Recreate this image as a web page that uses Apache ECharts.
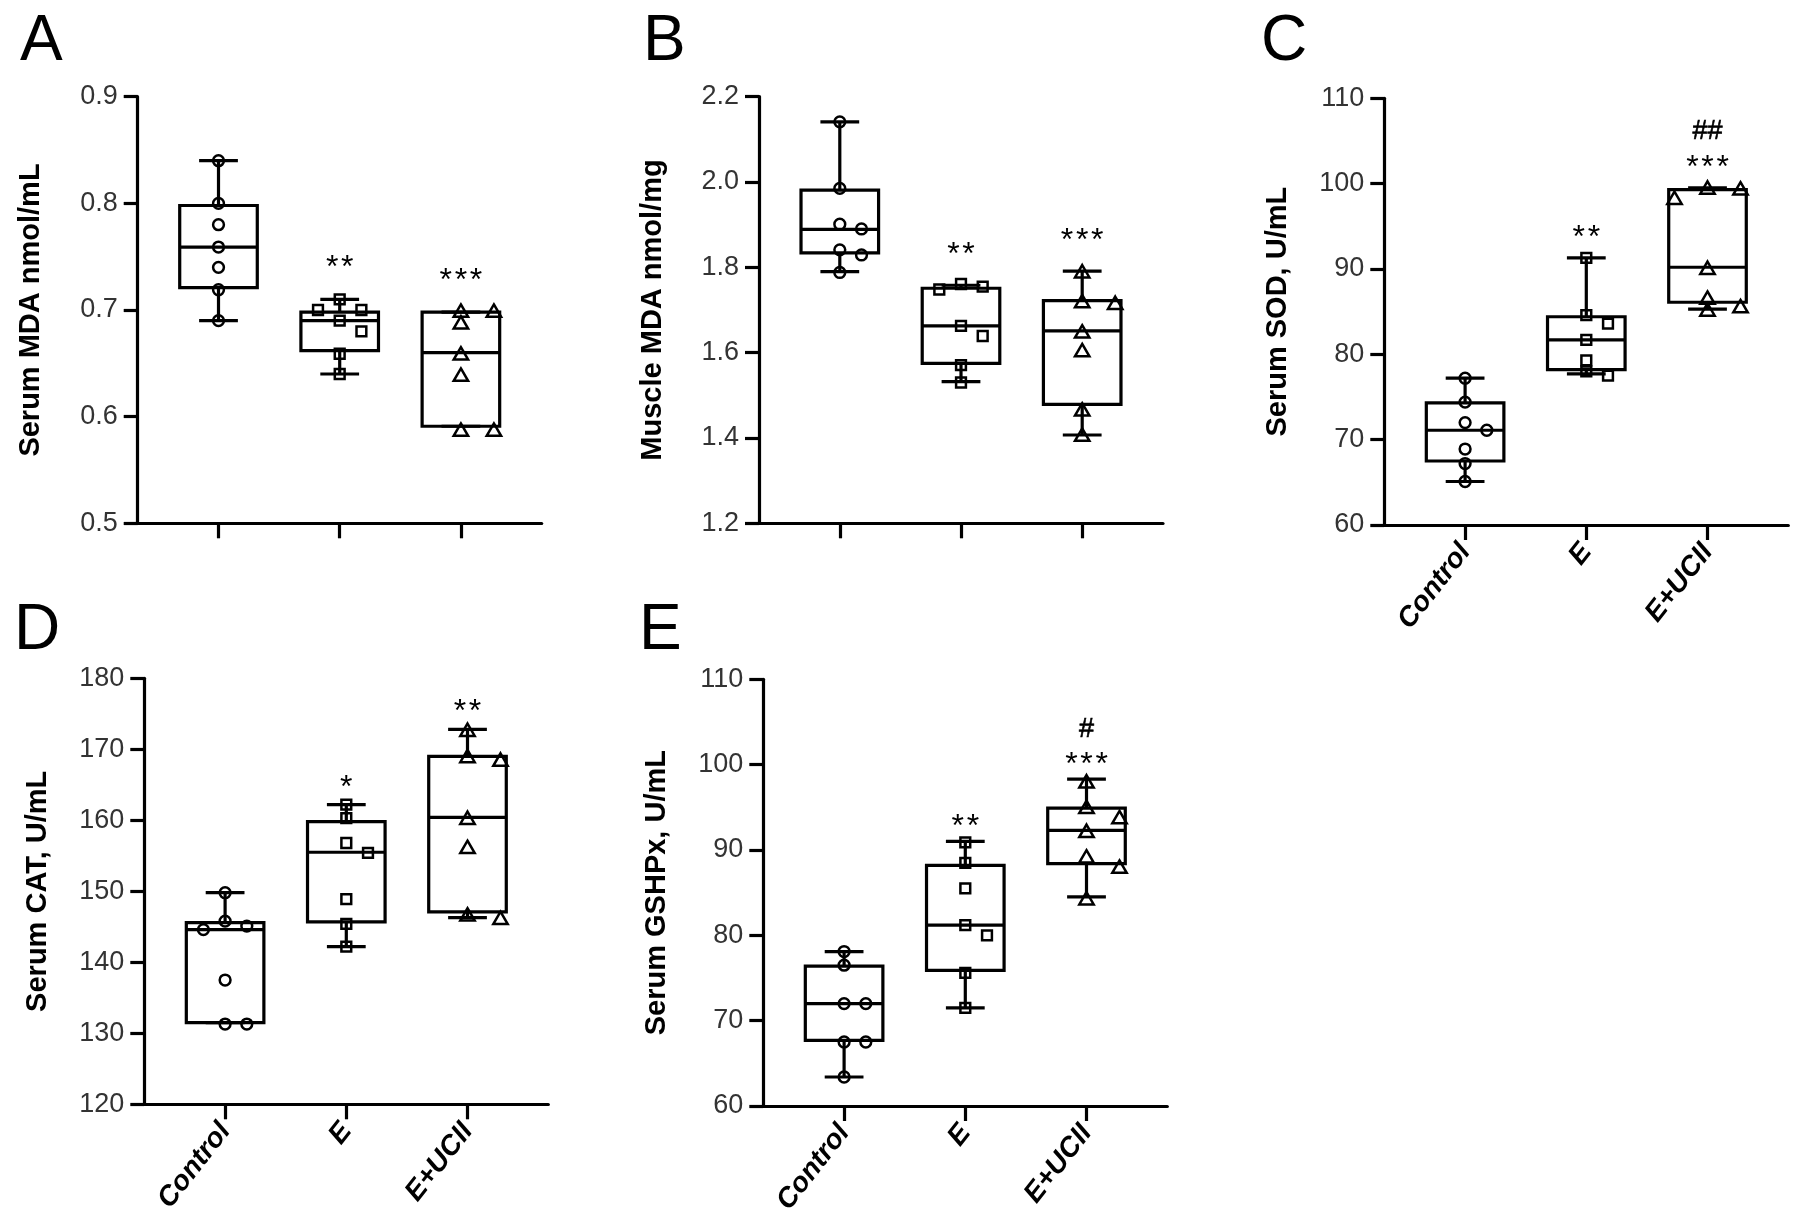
<!DOCTYPE html>
<html>
<head>
<meta charset="utf-8">
<style>
html,body{margin:0;padding:0;background:#fff;}
#c{width:1804px;height:1226px;}
</style>
<script src="https://cdn.jsdelivr.net/npm/echarts@6/dist/echarts.min.js"></script>
</head>
<body>
<div id="c"></div>
<script>
// ---------------- data ----------------
const categories = ['Control', 'E', 'E+UCII'];

// A: Serum MDA (nmol/mL)
const serumMDA_points = [
  [0.840, 0.800, 0.780, 0.759, 0.740, 0.719, 0.690],
  [0.710, 0.700, 0.700, 0.690, 0.680, 0.659, 0.640],
  [0.699, 0.699, 0.688, 0.659, 0.639, 0.5875, 0.5875]
];
// [min, Q1, median, Q3, max]
const serumMDA_box = [
  [0.690, 0.721, 0.759, 0.798, 0.840],
  [0.640, 0.662, 0.690, 0.698, 0.710],
  [0.591, 0.591, 0.660, 0.698, 0.698]
];
const serumMDA_sig = ['', '**', '***'];
const serumMDA_sig2 = ['', '', ''];

// B: Muscle MDA (nmol/mg)
const muscleMDA_points = [
  [2.141, 1.985, 1.901, 1.890, 1.841, 1.829, 1.788],
  [1.761, 1.755, 1.748, 1.663, 1.639, 1.571, 1.530],
  [1.790, 1.720, 1.716, 1.649, 1.605, 1.466, 1.407]
];
const muscleMDA_box = [
  [1.790, 1.834, 1.889, 1.981, 2.141],
  [1.532, 1.575, 1.663, 1.751, 1.758],
  [1.407, 1.479, 1.651, 1.722, 1.791]
];
const muscleMDA_sig = ['', '**', '***'];
const muscleMDA_sig2 = ['', '', ''];

// C: Serum SOD (U/mL)
const serumSOD_points = [
  [77.2, 74.4, 72.0, 71.1, 68.9, 67.2, 65.1],
  [91.3, 84.6, 83.6, 81.7, 79.3, 78.0, 77.5],
  [99.5, 99.4, 98.3, 90.1, 86.6, 85.6, 85.2]
];
const serumSOD_box = [
  [65.1, 67.5, 71.1, 74.3, 77.2],
  [77.7, 78.2, 81.7, 84.4, 91.3],
  [85.3, 86.1, 90.2, 99.3, 99.5]
];
const serumSOD_sig = ['', '**', '***'];
const serumSOD_sig2 = ['', '', '##'];

// D: Serum CAT (U/mL)
const serumCAT_points = [
  [149.8, 145.8, 145.1, 144.6, 137.5, 131.3, 131.3],
  [162.2, 160.3, 156.8, 155.4, 148.9, 145.4, 142.2],
  [172.7, 169.0, 168.5, 160.3, 156.2, 146.7, 146.2]
];
const serumCAT_box = [
  [131.5, 131.5, 144.6, 145.6, 149.8],
  [142.2, 145.7, 155.5, 159.8, 162.2],
  [146.3, 147.1, 160.4, 169.0, 172.8]
];
const serumCAT_sig = ['', '*', '**'];
const serumCAT_sig2 = ['', '', ''];

// E: Serum GSHPx (U/mL)
const serumGSHPx_points = [
  [78.1, 76.5, 72.0, 72.0, 67.5, 67.5, 63.4],
  [90.9, 88.5, 85.5, 81.2, 80.0, 75.6, 71.5],
  [98.0, 95.0, 93.8, 92.2, 89.2, 88.0, 84.3]
];
const serumGSHPx_box = [
  [63.4, 67.7, 72.0, 76.4, 78.1],
  [71.5, 75.9, 81.2, 88.2, 91.0],
  [84.5, 88.4, 92.3, 94.9, 98.3]
];
const serumGSHPx_sig = ['', '**', '***'];
const serumGSHPx_sig2 = ['', '', '#'];

// tick settings
const ticksA = {min: 0.5, max: 0.9, step: 0.1, dec: 1};
const ticksB = {min: 1.2, max: 2.2, step: 0.2, dec: 1};
const ticksC = {min: 60, max: 110, step: 10, dec: 0};
const ticksD = {min: 120, max: 180, step: 10, dec: 0};
const ticksE = {min: 60, max: 110, step: 10, dec: 0};

// ---------------- layout ----------------
const FONT = "'Liberation Sans', Arial, Helvetica, sans-serif";
const panels = [
  {letter: 'A', lx: 20, ly: 42, grid: {left: 137.7, top: 96.7, width: 404, height: 426.6},
   ticks: ticksA, title: 'Serum MDA nmol/mL', points: serumMDA_points, box: serumMDA_box,
   sig: serumMDA_sig, sig2: serumMDA_sig2, showX: false, sigGap: 40},
  {letter: 'B', lx: 643, ly: 42, grid: {left: 759, top: 96.7, width: 404, height: 426.6},
   ticks: ticksB, title: 'Muscle MDA nmol/mg', points: muscleMDA_points, box: muscleMDA_box,
   sig: muscleMDA_sig, sig2: muscleMDA_sig2, showX: false, sigGap: 39},
  {letter: 'C', lx: 1261, ly: 42, grid: {left: 1384.3, top: 98.3, width: 404, height: 426.7},
   ticks: ticksC, title: 'Serum SOD, U/mL', points: serumSOD_points, box: serumSOD_box,
   sig: serumSOD_sig, sig2: serumSOD_sig2, showX: true, sigGap: 29},
  {letter: 'D', lx: 14, ly: 631, grid: {left: 144.3, top: 678.3, width: 404, height: 426},
   ticks: ticksD, title: 'Serum CAT, U/mL', points: serumCAT_points, box: serumCAT_box,
   sig: serumCAT_sig, sig2: serumCAT_sig2, showX: true, sigGap: 26},
  {letter: 'E', lx: 639, ly: 631, grid: {left: 763.3, top: 679.3, width: 404, height: 426.7},
   ticks: ticksE, title: 'Serum GSHPx, U/mL', points: serumGSHPx_points, box: serumGSHPx_box,
   sig: serumGSHPx_sig, sig2: serumGSHPx_sig2, showX: true, sigGap: 23}
];

const LINE = 3.2;
const MARK_LW = 2.5;

function spaced(s) { return s.split('').join('\u200A'); }

function makeBoxRender(p) {
  return function (params, api) {
    const i = api.value(0);
    const mn = api.value(1), q1 = api.value(2), md = api.value(3), q3 = api.value(4), mx = api.value(5);
    const band = api.size([1, 0])[0];
    const cx = api.coord([i, md])[0];
    const Y = v => api.coord([i, v])[1];
    const hw = band * 0.32, cw = band * 0.16;
    const st = {stroke: '#000', lineWidth: LINE, fill: 'none'};
    const ch = [];
    ch.push({type: 'line', shape: {x1: cx, y1: Y(q3), x2: cx, y2: Y(mx)}, style: st});
    ch.push({type: 'line', shape: {x1: cx, y1: Y(q1), x2: cx, y2: Y(mn)}, style: st});
    ch.push({type: 'line', shape: {x1: cx - cw, y1: Y(mx), x2: cx + cw, y2: Y(mx)}, style: st});
    ch.push({type: 'line', shape: {x1: cx - cw, y1: Y(mn), x2: cx + cw, y2: Y(mn)}, style: st});
    ch.push({type: 'rect', shape: {x: cx - hw, y: Y(q3), width: 2 * hw, height: Y(q1) - Y(q3)}, style: st});
    ch.push({type: 'line', shape: {x1: cx - hw, y1: Y(md), x2: cx + hw, y2: Y(md)}, style: st});
    const s1 = p.sig[i], s2 = p.sig2[i];
    const ys = Y(mx) - p.sigGap;
    if (s1) {
      ch.push({type: 'text', x: cx, y: ys + 9,
        style: {text: spaced(s1), fontSize: 32, fontFamily: FONT, fill: '#000', align: 'center', verticalAlign: 'middle'}});
    }
    if (s2) {
      ch.push({type: 'text', x: cx, y: ys - 27,
        style: {text: s2, fontSize: 27, fontFamily: FONT, fill: '#000', align: 'center', verticalAlign: 'middle',
          stroke: '#000', lineWidth: 0.6}});
    }
    return {type: 'group', children: ch};
  };
}

function marker(kind, x, y) {
  const st = {stroke: '#000', lineWidth: MARK_LW, fill: 'none'};
  if (kind === 0) return {type: 'circle', shape: {cx: x, cy: y, r: 5.4}, style: st};
  if (kind === 1) return {type: 'rect', shape: {x: x - 4.9, y: y - 4.9, width: 9.8, height: 9.8}, style: st};
  return {type: 'polygon', shape: {points: [[x, y - 6.6], [x + 7.2, y + 5.8], [x - 7.2, y + 5.8]]}, style: st};
}

function makePointRender(p) {
  return function (params, api) {
    const i = api.value(0);
    const n = p.points[i].length;
    const cx = api.coord([i, api.value(1)])[0];
    const step = i === 2 ? 33 : 21.7;
    const order = [0, 1, -1, 2, -2, 3, -3];
    const placed = [];
    const ch = [];
    for (let k = 1; k <= n; k++) {
      const py = api.coord([i, api.value(k)])[1];
      let slot = order.find(s => !placed.some(q => q.s === s && Math.abs(q.y - py) < 11));
      if (slot === undefined) slot = 0;
      placed.push({s: slot, y: py});
      ch.push(marker(i, cx + slot * step, py));
    }
    return {type: 'group', children: ch};
  };
}

const option = {
  backgroundColor: '#fff',
  animation: false,
  grid: [], xAxis: [], yAxis: [], series: [],
  graphic: panels.map(p => ({
    type: 'text', x: p.lx, y: p.ly,
    style: {text: p.letter, fontSize: 64, fontFamily: FONT, fill: '#000', align: 'left', verticalAlign: 'middle'}
  }))
};

panels.forEach((p, gi) => {
  option.grid.push(Object.assign({containLabel: false}, p.grid));
  option.xAxis.push({
    type: 'value', gridIndex: gi, min: -2 / 3, max: 8 / 3,
    axisLine: {show: true, onZero: false, lineStyle: {color: '#000', width: LINE}},
    axisTick: {show: true, customValues: [0, 1, 2], length: 15, inside: false, lineStyle: {color: '#000', width: LINE}},
    axisLabel: {
      show: p.showX, customValues: [0, 1, 2], rotate: 52, margin: 22,
      formatter: v => categories[Math.round(v)] || '',
      fontSize: 28, fontWeight: 'bold', fontStyle: 'italic', fontFamily: FONT, color: '#000'
    },
    splitLine: {show: false}
  });
  option.yAxis.push({
    type: 'value', gridIndex: gi, min: p.ticks.min, max: p.ticks.max, interval: p.ticks.step,
    axisLine: {show: true, onZero: false, lineStyle: {color: '#000', width: LINE}},
    axisTick: {show: true, length: 14, lineStyle: {color: '#000', width: LINE}},
    axisLabel: {margin: 20, fontSize: 27, fontFamily: FONT, color: '#333',
      formatter: v => Number(v).toFixed(p.ticks.dec)},
    splitLine: {show: false},
    name: p.title, nameLocation: 'middle', nameGap: 92,
    nameTextStyle: {fontSize: 29, fontWeight: 'bold', fontFamily: FONT, color: '#000'}
  });
  option.series.push({
    type: 'custom', xAxisIndex: gi, yAxisIndex: gi, clip: false,
    renderItem: makeBoxRender(p),
    encode: {x: 0, y: [1, 2, 3, 4, 5]},
    data: p.box.map((b, i) => [i].concat(b)),
    z: 2
  });
  option.series.push({
    type: 'custom', xAxisIndex: gi, yAxisIndex: gi, clip: false,
    renderItem: makePointRender(p),
    encode: {x: 0, y: 1},
    data: p.points.map((pts, i) => [i].concat(pts)),
    z: 3
  });
});

const chart = echarts.init(document.getElementById('c'));
chart.setOption(option);
</script>
</body>
</html>
